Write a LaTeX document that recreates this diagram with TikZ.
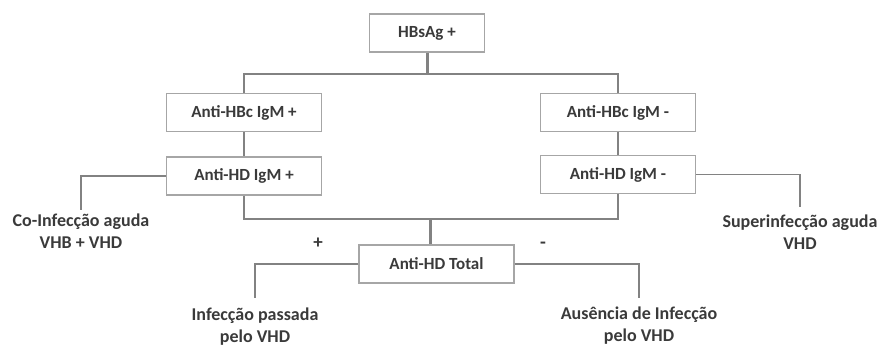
\documentclass[tikz,border=0pt]{standalone}
\usepackage{fontspec}
\setmainfont{Carlito}
\usepackage{xcolor}
\usepackage{tikz}
\definecolor{txtgray}{HTML}{3A3A3A}
\definecolor{linegray}{HTML}{828282}
\definecolor{boxgray}{HTML}{A6A6A6}

\begin{document}
\begin{tikzpicture}[x=1pt, y=-1pt,
        testbox/.style={rectangle, draw=boxgray, line width=1.2pt, fill=white, minimum width=155pt, minimum height=38pt, inner sep=0pt, font=\fontsize{17}{20}\selectfont\bfseries, text=txtgray},
        result/.style={align=center, inner xsep=0pt, inner ysep=5pt, font=\fontsize{18}{22}\selectfont\bfseries, text=txtgray},
        sign/.style={inner sep=0pt, font=\fontsize{19}{20}\selectfont\bfseries, text=txtgray},
        link/.style={draw=linegray, line width=1.8pt},
        stem/.style={draw=linegray, line width=3pt}]
        \useasboundingbox (0,0) rectangle (881,347);
        % Serology decision tree
        \node[testbox, minimum width=115pt] (hbsag) at (427,33) {HBsAg +};
        \node[testbox] (hbcpos) at (244,112.5) {Anti-HBc IgM +};
        \node[testbox] (hdpos) at (244,176) {Anti-HD IgM +};
        \node[testbox] (hbcneg) at (618,112.5) {Anti-HBc IgM -};
        \node[testbox] (hdneg) at (618,174.5) {Anti-HD IgM -};
        \node[testbox] (hdtot) at (436.5,264) {Anti-HD Total};
        \coordinate (top) at (427,74);
        \coordinate (bot) at (430,219);

        \node[result, anchor=north, inner ysep=4pt] (coinf) at (81,210) {Co-Infecção aguda\\VHB + VHD};
        \node[result, anchor=north, inner ysep=8pt] (superinf) at (800,207) {Superinfecção aguda\\VHD};
        \node[result, anchor=north, inner ysep=10pt] (passada) at (255,298) {Infecção passada\\pelo VHD};
        \node[result, anchor=north, inner ysep=9pt] (ausencia) at (639,298) {Ausência de Infecção\\pelo VHD};
        \node[sign] (plus) at (318,243) {+};
        \node[sign] (minus) at (543,245) {-};

        \draw[stem] (hbsag) -- (top);
        \draw[link] (hbcpos) |- (top) -| (hbcneg);
        \draw[link] (hbcpos) -- (hdpos);
        \draw[link] (hbcneg) -- (hdneg);
        \draw[link] (hdpos) |- (bot) -| (hdneg);
        \draw[stem] (bot) -- (bot |- hdtot.north);
        \draw[link] (hdpos.west) -| (coinf.north);
        \draw[link] (hdneg.east) -| (superinf.north);
        \draw[link] (hdtot.west) -| (passada.north);
        \draw[link] (hdtot.east) -| (ausencia.north);
    \end{tikzpicture}
\end{document}
